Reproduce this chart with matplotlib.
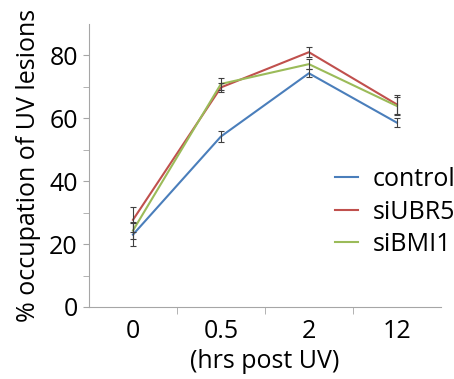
import numpy as np
import matplotlib
matplotlib.use("Agg")
import matplotlib.pyplot as plt

plt.rcParams["font.family"] = ["Open Sans", "DejaVu Sans"]

categories = ["0", "0.5", "2", "12"]
control = [23.0, 54.2, 74.3, 58.6]
control_err = [3.6, 1.9, 1.2, 1.4]
si_ubr5 = [27.7, 69.8, 81.0, 64.4]
si_ubr5_err = [4.0, 1.5, 1.6, 3.0]
si_bmi1 = [24.3, 70.9, 77.2, 63.9]
si_bmi1_err = [2.8, 2.0, 1.6, 3.0]

series = [
    ("control", control, control_err, "#4a7ebb"),
    ("siUBR5", si_ubr5, si_ubr5_err, "#c0504d"),
    ("siBMI1", si_bmi1, si_bmi1_err, "#9bbb59"),
]

fig = plt.figure(figsize=(4.54, 3.79), dpi=100)
ax = fig.add_axes([0.196, 0.19, 0.775, 0.747])

x = np.arange(len(categories))
for name, y, err, color in series:
    ax.plot(x, y, color=color, lw=1.5, label=name, zorder=3)
    ax.errorbar(x, y, yerr=err, fmt="none", ecolor="#404040", elinewidth=0.8,
                capsize=2.5, capthick=0.8, zorder=4)

ax.set_xlim(-0.5, len(categories) - 0.5)
ax.set_ylim(0, 90)
ax.set_yticks([0, 20, 40, 60, 80])
ax.set_yticks([10, 30, 50, 70], minor=True)
ax.set_xticks(np.arange(0.5, len(categories) - 0.5), minor=True)
ax.set_xticks(x)
ax.set_xticklabels(categories)

for s in ["top", "right"]:
    ax.spines[s].set_visible(False)
for s in ["left", "bottom"]:
    ax.spines[s].set_color("#a6a6a6")
    ax.spines[s].set_linewidth(0.8)

ax.tick_params(axis="y", which="both", length=4, color="#a6a6a6", labelsize=18, pad=4)
ax.tick_params(axis="x", which="major", length=0, labelsize=18, pad=9)
ax.tick_params(axis="x", which="minor", length=5, color="#a6a6a6")

ax.set_xlabel("(hrs post UV)", fontsize=18, labelpad=3)
ax.set_ylabel("% occupation of UV lesions", fontsize=18, labelpad=6)

ax.legend(loc="center left", bbox_to_anchor=(0.7, 0.335), frameon=False,
          fontsize=18, handlelength=0.9, handletextpad=0.6, labelspacing=0.3,
          borderaxespad=0, borderpad=0)

fig.savefig("out.png", dpi=100)
